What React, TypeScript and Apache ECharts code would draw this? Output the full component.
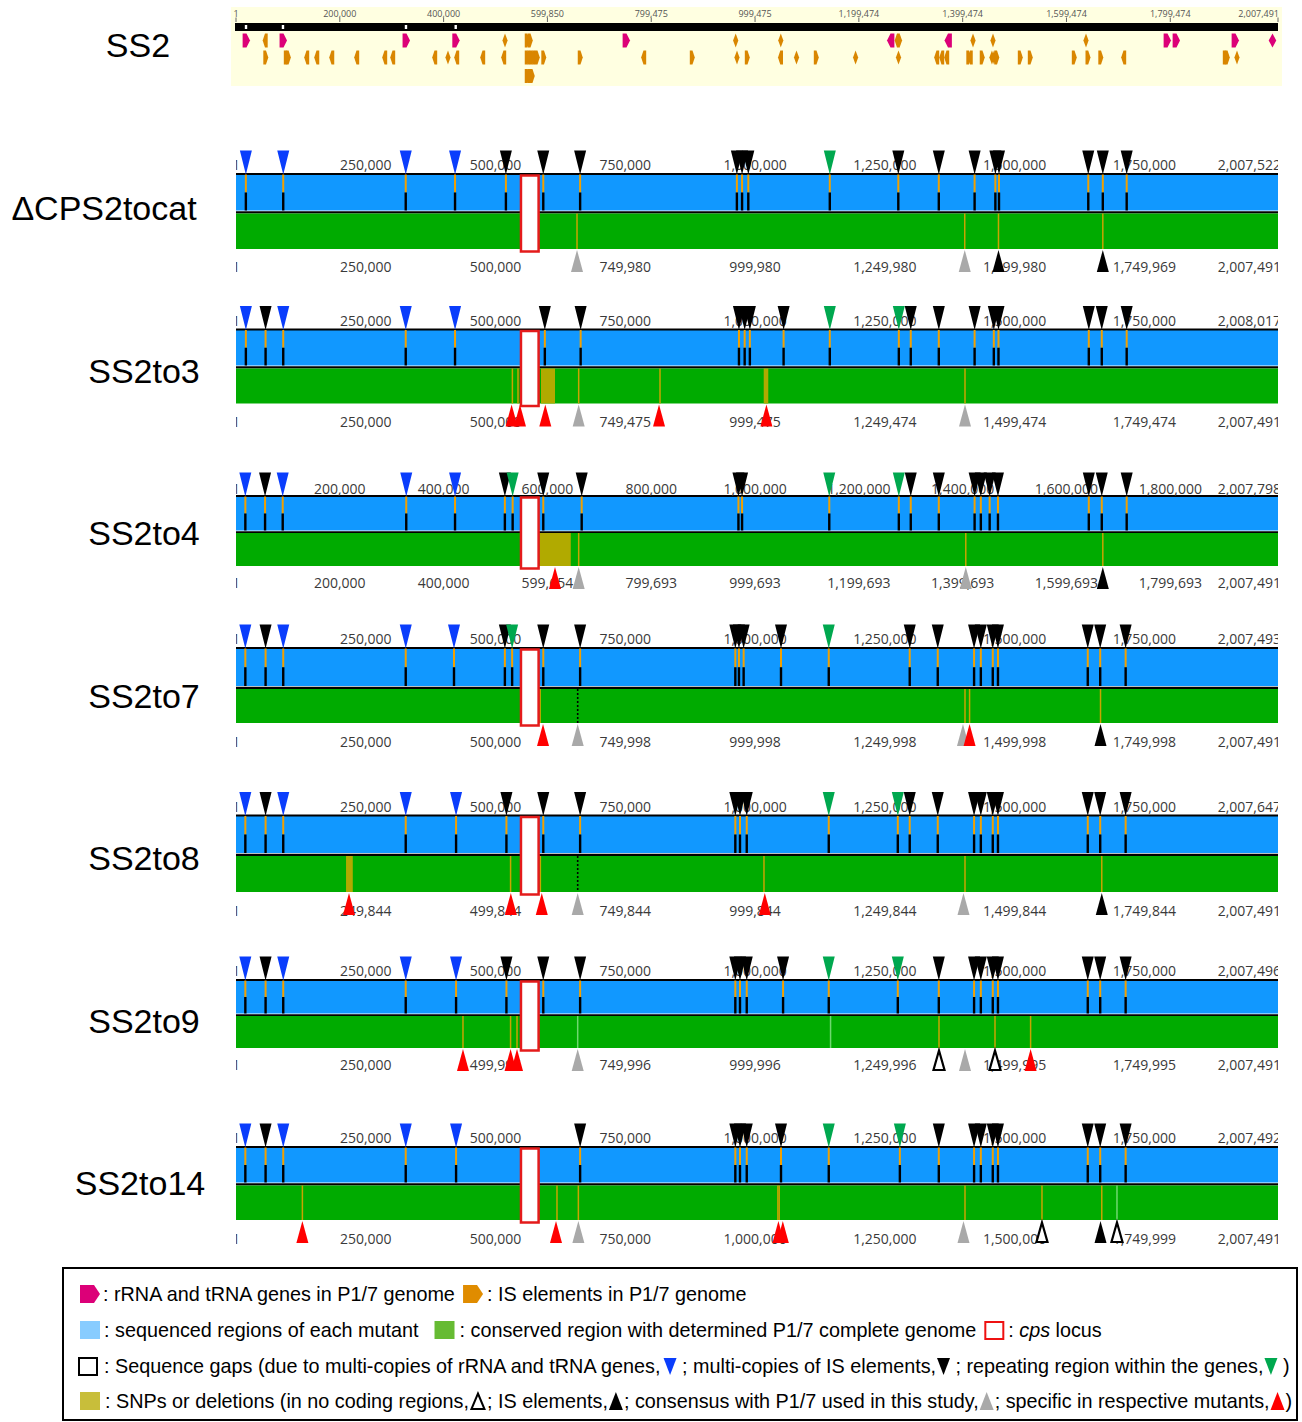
import React, { useEffect, useRef } from "react";
import * as echarts from "echarts";

// ---------- axis scale ----------
const GENOME_MAX = 2007522;
const TICKS_250K = [1, 250000, 500000, 750000, 1000000, 1250000, 1500000, 1750000, GENOME_MAX];
const TICKS_200K = [1, 200000, 400000, 600000, 800000, 1000000, 1200000, 1400000, 1600000, 1800000, GENOME_MAX];
const CPS_LOCUS = [549000, 583000];

// ---------- SS2 (P1/7) reference track ----------
const ss2TickLabels = ["1", "200,000", "400,000", "599,850", "799,475", "999,475", "1,199,474", "1,399,474", "1,599,474", "1,799,474", "2,007,491"];
const ss2BarNotches = [19300, 90500, 327500, 423300];
const ss2RnaGenes: [number, string][] = [
  [19300, "R"], [90500, "R"], [327500, "R"], [423300, "R"], [751400, "R"], [1261900, "L"],
  [1372700, "L"], [1793700, "R"], [1811000, "R"], [1924700, "R"], [1996900, "D"],
];
const ss2IsRow1: [number, string][] = [
  [56800, "L"], [518300, "D"], [560600, "R"], [566400, "R"], [962700, "D"], [1049600, "D"],
  [1274400, "L"], [1278400, "D"], [1419900, "D"], [1458400, "D"], [1637600, "D"],
];
const ss2IsRow2: [number, string][] = [
  [56800, "R"], [96300, "R"], [100300, "R"], [136800, "L"], [156100, "L"], [185000, "L"], [233100, "L"],
  [287100, "L"], [302500, "L"], [383400, "L"], [408400, "D"], [425800, "L"], [475900, "L"], [516300, "L"],
  [560600, "R"], [565400, "R"], [570200, "R"], [575000, "R"], [579900, "R"], [592400, "R"], [662700, "R"],
  [786000, "L"], [878500, "R"], [965200, "D"], [984500, "R"], [1049600, "L"], [1079900, "D"], [1117400, "R"],
  [1193700, "D"], [1276400, "D"], [1350500, "L"], [1360200, "L"], [1369800, "L"], [1411300, "R"], [1415200, "L"],
  [1437200, "R"], [1456400, "D"], [1460400, "D"], [1465200, "R"], [1510500, "R"], [1529700, "R"], [1614500, "R"],
  [1640900, "R"], [1665600, "R"], [1710800, "L"], [1905400, "R"], [1909300, "R"], [1928500, "D"],
];
const ss2IsRow3: [number, string][] = [[560600, "R"], [565400, "R"], [570200, "R"]];

// ---------- ΔCPS2tocat ----------
const dcpsTopLabels = ["1", "250,000", "500,000", "750,000", "1,000,000", "1,250,000", "1,500,000", "1,750,000", "2,007,522"];
const dcpsBottomLabels = ["1", "250,000", "500,000", "749,980", "999,980", "1,249,980", "1,499,980", "1,749,969", "2,007,491"];
const dcpsGaps: [number, string][] = [
  [19000, "rna"], [91000, "rna"], [327000, "rna"], [422000, "rna"], [520000, "is"], [592000, "is"], [663000, "is"],
  [965000, "is"], [975000, "is"], [987000, "is"], [1144000, "rep"], [1276000, "is"], [1354000, "is"], [1423000, "is"],
  [1463000, "is"], [1470000, "is"], [1642000, "is"], [1670000, "is"], [1716000, "is"],
];
const dcpsSnps = [657000, 1404000, 1469000, 1670000];
const dcpsBlocks: [number, number][] = [];
const dcpsMarks: [number, string][] = [[657000, "con"], [1404000, "con"], [1469000, "is"], [1670000, "is"]];

// ---------- SS2to3 ----------
const to3TopLabels = ["1", "250,000", "500,000", "750,000", "1,000,000", "1,250,000", "1,500,000", "1,750,000", "2,008,017"];
const to3BottomLabels = ["1", "250,000", "500,000", "749,475", "999,475", "1,249,474", "1,499,474", "1,749,474", "2,007,491"];
const to3Gaps: [number, string][] = [
  [19000, "rna"], [57000, "is"], [91000, "rna"], [327000, "rna"], [422000, "rna"], [595000, "is"], [664000, "is"],
  [969000, "is"], [980000, "is"], [990000, "is"], [1055000, "is"], [1144000, "rep"], [1277000, "rep"], [1300000, "is"],
  [1354000, "is"], [1423000, "is"], [1460000, "is"], [1469000, "is"], [1643000, "is"], [1668000, "is"], [1716000, "is"],
];
const to3Snps = [532500, 543300, 660200, 816900, 1404500];
const to3Blocks: [number, number][] = [[587600, 614600], [1016700, 1025500]];
const to3Marks: [number, string][] = [
  [531000, "spec"], [547100, "spec"], [595900, "spec"], [660200, "con"], [815000, "spec"], [1021900, "spec"], [1404500, "con"],
];

// ---------- SS2to4 ----------
const to4TopLabels = ["1", "200,000", "400,000", "600,000", "800,000", "1,000,000", "1,200,000", "1,400,000", "1,600,000", "1,800,000", "2,007,798"];
const to4BottomLabels = ["1", "200,000", "400,000", "599,654", "799,693", "999,693", "1,199,693", "1,399,693", "1,599,693", "1,799,693", "2,007,491"];
const to4Gaps: [number, string][] = [
  [18000, "rna"], [56000, "is"], [90000, "rna"], [328000, "rna"], [422000, "rna"], [518000, "is"], [533000, "rep"],
  [592000, "is"], [666000, "is"], [968000, "is"], [975000, "is"], [1143000, "rep"], [1277000, "rep"], [1300000, "is"],
  [1354000, "is"], [1423000, "is"], [1435000, "is"], [1452000, "is"], [1468000, "is"], [1643000, "is"], [1668000, "is"],
  [1716000, "is"],
];
const to4Snps = [660200, 1406000, 1670000];
const to4Blocks: [number, number][] = [[585000, 645000]];
const to4Marks: [number, string][] = [[614600, "spec"], [660200, "con"], [1406000, "con"], [1670000, "is"]];

// ---------- SS2to7 ----------
const to7TopLabels = ["1", "250,000", "500,000", "750,000", "1,000,000", "1,250,000", "1,500,000", "1,750,000", "2,007,493"];
const to7BottomLabels = ["1", "250,000", "500,000", "749,998", "999,998", "1,249,998", "1,499,998", "1,749,998", "2,007,491"];
const to7Gaps: [number, string][] = [
  [18000, "rna"], [57000, "is"], [91000, "rna"], [327000, "rna"], [420000, "rna"], [518000, "is"], [532000, "rep"],
  [592000, "is"], [663000, "is"], [962000, "is"], [969000, "is"], [978000, "is"], [1050000, "is"], [1142000, "rep"],
  [1298000, "is"], [1352000, "is"], [1422000, "is"], [1435000, "is"], [1458000, "is"], [1468000, "is"], [1641000, "is"],
  [1665000, "is"], [1714000, "is"],
];
const to7Snps = [586000, 1404500, 1413300, 1665600];
const to7Dotted = [658300];
const to7Marks: [number, string][] = [[591500, "spec"], [658300, "con"], [1400600, "con"], [1413300, "spec"], [1665600, "is"]];

// ---------- SS2to8 ----------
const to8TopLabels = ["1", "250,000", "500,000", "750,000", "1,000,000", "1,250,000", "1,500,000", "1,750,000", "2,007,647"];
const to8BottomLabels = ["1", "249,844", "499,844", "749,844", "999,844", "1,249,844", "1,499,844", "1,749,844", "2,007,491"];
const to8Gaps: [number, string][] = [
  [18000, "rna"], [57000, "is"], [91000, "rna"], [327000, "rna"], [424000, "rna"], [521000, "is"], [592000, "is"],
  [663000, "is"], [962000, "is"], [971000, "is"], [984000, "is"], [1142000, "rep"], [1275000, "rep"], [1298000, "is"],
  [1352000, "is"], [1422000, "is"], [1435000, "is"], [1458000, "is"], [1468000, "is"], [1641000, "is"], [1665000, "is"],
  [1714000, "is"],
];
const to8Snps = [529000, 586400, 1017200, 1404500, 1668000];
const to8Dotted = [658300];
const to8Blocks: [number, number][] = [[212000, 225000]];
const to8Marks: [number, string][] = [
  [217700, "spec"], [529500, "spec"], [589100, "spec"], [658300, "con"], [1018800, "spec"], [1401600, "con"], [1668000, "is"],
];

// ---------- SS2to9 ----------
const to9TopLabels = ["1", "250,000", "500,000", "750,000", "1,000,000", "1,250,000", "1,500,000", "1,750,000", "2,007,496"];
const to9BottomLabels = ["1", "250,000", "499,996", "749,996", "999,996", "1,249,996", "1,499,995", "1,749,995", "2,007,491"];
const to9Gaps: [number, string][] = [
  [18000, "rna"], [57000, "is"], [91000, "rna"], [327000, "rna"], [424000, "rna"], [521000, "is"], [592000, "is"],
  [663000, "is"], [962000, "is"], [971000, "is"], [984000, "is"], [1054000, "is"], [1142000, "rep"], [1275000, "rep"],
  [1354000, "is"], [1422000, "is"], [1435000, "is"], [1458000, "is"], [1468000, "is"], [1641000, "is"], [1665000, "is"],
  [1714000, "is"],
];
const to9Snps = [437300, 529000, 541400, 1354400, 1462300, 1530900];
const to9Faint = [658300, 1145500];
const to9Marks: [number, string][] = [
  [437300, "spec"], [529000, "spec"], [541400, "spec"], [658300, "con"], [1354400, "nc"], [1404500, "con"],
  [1462300, "nc"], [1530900, "spec"],
];

// ---------- SS2to14 ----------
const to14TopLabels = ["1", "250,000", "500,000", "750,000", "1,000,000", "1,250,000", "1,500,000", "1,750,000", "2,007,492"];
const to14BottomLabels = ["1", "250,000", "500,000", "750,000", "1,000,000", "1,250,000", "1,500,000", "1,749,999", "2,007,491"];
const to14Gaps: [number, string][] = [
  [18000, "rna"], [57000, "is"], [91000, "rna"], [327000, "rna"], [424000, "rna"], [663000, "is"], [962000, "is"],
  [971000, "is"], [984000, "is"], [1050000, "is"], [1142000, "rep"], [1279000, "rep"], [1354000, "is"], [1422000, "is"],
  [1435000, "is"], [1458000, "is"], [1468000, "is"], [1641000, "is"], [1665000, "is"], [1714000, "is"],
];
const to14Snps = [127900, 618400, 659600, 1044000, 1046500, 1404500, 1552800, 1668000];
const to14Faint = [1697300];
const to14Marks: [number, string][] = [
  [127900, "spec"], [616500, "spec"], [659600, "con"], [1045000, "spec"], [1053500, "spec"], [1401600, "con"],
  [1552800, "nc"], [1665600, "is"], [1697300, "nc"],
];

const TRACKS = [
  { name: "ΔCPS2tocat", ticks: TICKS_250K, top: dcpsTopLabels, bottom: dcpsBottomLabels, gaps: dcpsGaps, snps: dcpsSnps, faint: [] as number[], dotted: [] as number[], blocks: dcpsBlocks, marks: dcpsMarks },
  { name: "SS2to3", ticks: TICKS_250K, top: to3TopLabels, bottom: to3BottomLabels, gaps: to3Gaps, snps: to3Snps, faint: [], dotted: [], blocks: to3Blocks, marks: to3Marks },
  { name: "SS2to4", ticks: TICKS_200K, top: to4TopLabels, bottom: to4BottomLabels, gaps: to4Gaps, snps: to4Snps, faint: [], dotted: [], blocks: to4Blocks, marks: to4Marks },
  { name: "SS2to7", ticks: TICKS_250K, top: to7TopLabels, bottom: to7BottomLabels, gaps: to7Gaps, snps: to7Snps, faint: [], dotted: to7Dotted, blocks: [], marks: to7Marks },
  { name: "SS2to8", ticks: TICKS_250K, top: to8TopLabels, bottom: to8BottomLabels, gaps: to8Gaps, snps: to8Snps, faint: [], dotted: to8Dotted, blocks: to8Blocks, marks: to8Marks },
  { name: "SS2to9", ticks: TICKS_250K, top: to9TopLabels, bottom: to9BottomLabels, gaps: to9Gaps, snps: to9Snps, faint: to9Faint, dotted: [], blocks: [], marks: to9Marks },
  { name: "SS2to14", ticks: TICKS_250K, top: to14TopLabels, bottom: to14BottomLabels, gaps: to14Gaps, snps: to14Snps, faint: to14Faint, dotted: [], blocks: [], marks: to14Marks },
];

// ---------- layout (pixel rows) ----------
const LAYOUT = [
  { nameX: 104, nameY: 208, topLabelY: 164, blueTop: 174.5, blueBottom: 210.5, greenTop: 213.5, greenBottom: 249, bottomLabelY: 266 },
  { nameX: 144, nameY: 371, topLabelY: 320, blueTop: 330, blueBottom: 365.5, greenTop: 368.5, greenBottom: 403.5, bottomLabelY: 421 },
  { nameX: 144, nameY: 533, topLabelY: 488, blueTop: 496.5, blueBottom: 530.5, greenTop: 533, greenBottom: 566, bottomLabelY: 582 },
  { nameX: 144, nameY: 696, topLabelY: 638, blueTop: 648.5, blueBottom: 686, greenTop: 689, greenBottom: 723, bottomLabelY: 741 },
  { nameX: 144, nameY: 858, topLabelY: 806, blueTop: 816, blueBottom: 853, greenTop: 856, greenBottom: 892, bottomLabelY: 910 },
  { nameX: 144, nameY: 1021, topLabelY: 970, blueTop: 980.5, blueBottom: 1013.5, greenTop: 1016, greenBottom: 1048, bottomLabelY: 1064 },
  { nameX: 140, nameY: 1183, topLabelY: 1137, blueTop: 1147.5, blueBottom: 1182.5, greenTop: 1185.5, greenBottom: 1220, bottomLabelY: 1238 },
];

const C = {
  blue: "#1198ff", green: "#00ab00", olive: "#b1aa00", snp: "#c8a400", faint: "#6fd86f", isOrange: "#f2a000",
  triBlue: "#0a3dfc", triGreen: "#00a84f", red: "#ff0000", gray: "#a9a9a9", cps: "#e41b1b",
  magenta: "#dc0078", orange: "#d98600", label: "#3a3a3a",
};
const LEGEND_FONT = 19.8;
const LEGEND_FAMILY = '"Liberation Sans", Arial, sans-serif';

function markerPoints(x: number, y: number, dir: string, wide: boolean) {
  const h = 7;
  const a = wide ? 3.4 : 2.2;
  if (dir === "R") return [[x - a, y - h], [x + 0.5, y - h], [x + a + 0.6, y], [x + 0.5, y + h], [x - a, y + h]];
  if (dir === "L") return [[x + a, y - h], [x - 0.5, y - h], [x - a - 0.6, y], [x - 0.5, y + h], [x + a, y + h]];
  return [[x, y - h], [x + a + 0.4, y], [x, y + h], [x - a - 0.4, y]];
}

function buildOption() {
  const series: any[] = [];
  const px = (api: any, pos: number) => api.coord([pos, 0])[0];
  const mk = (name: string, items: any[], z: number, render: (it: any, api: any) => any, clip = false) => {
    series.push({
      type: "custom", name, z, silent: true, clip,
      data: items.map((it) => [it.pos, 0]),
      encode: { x: 0, y: 1 },
      renderItem: (params: any, api: any) => render(items[params.dataIndex], api),
    });
  };

  // ----- SS2 reference -----
  mk("ss2-bar", [{ pos: 0 }], 2, (_it, api) => {
    const x0 = px(api, 0), x1 = px(api, GENOME_MAX);
    return { type: "rect", shape: { x: x0 - 1, y: 23, width: x1 - x0 + 1, height: 8 }, style: { fill: "#000" } };
  });
  mk("ss2-notch", ss2BarNotches.map((p) => ({ pos: p })), 3, (it, api) => {
    const x = px(api, it.pos);
    return { type: "rect", shape: { x: x - 1.2, y: 25, width: 2.4, height: 4 }, style: { fill: "#fff" } };
  });
  mk("ss2-ticks", ss2TickLabels.map((t, i) => ({ pos: TICKS_200K[i], text: t, i })), 3, (it, api) => {
    const x = px(api, it.pos);
    const last = it.i === ss2TickLabels.length - 1;
    return {
      type: "group", children: [
        { type: "line", shape: { x1: x, y1: 17.5, x2: x, y2: 22 }, style: { stroke: "#666", lineWidth: 1 } },
        { type: "text", style: { text: it.text, x: last ? x + 1 : x, y: 13, fill: "#555", fontSize: 9, fontFamily: "Open Sans", align: last ? "right" : "center", verticalAlign: "middle" } },
      ],
    };
  });
  const ss2Markers = [
    ...ss2RnaGenes.map(([p, d]) => ({ pos: p, dir: d, y: 40.5, color: C.magenta, wide: true })),
    ...ss2IsRow1.map(([p, d]) => ({ pos: p, dir: d, y: 40.5, color: C.orange, wide: false })),
    ...ss2IsRow2.map(([p, d]) => ({ pos: p, dir: d, y: 57.5, color: C.orange, wide: false })),
    ...ss2IsRow3.map(([p, d]) => ({ pos: p, dir: d, y: 76, color: C.orange, wide: false })),
  ];
  mk("ss2-genes", ss2Markers, 3, (it, api) => {
    const x = px(api, it.pos);
    return { type: "polygon", shape: { points: markerPoints(x, it.y, it.dir, it.wide) }, style: { fill: it.color } };
  });

  // ----- mutant tracks -----
  mk("bars", TRACKS.map((_t, ti) => ({ pos: 0, ti })), 2, (it, api) => {
    const L = LAYOUT[it.ti];
    const x0 = px(api, 0), x1 = px(api, GENOME_MAX), w = x1 - x0;
    return {
      type: "group", children: [
        { type: "rect", shape: { x: x0, y: L.blueTop, width: w, height: L.blueBottom - L.blueTop }, style: { fill: C.blue } },
        { type: "rect", shape: { x: x0, y: L.blueTop - 1.4, width: w, height: 1.8 }, style: { fill: "#000" } },
        { type: "rect", shape: { x: x0, y: L.blueBottom + 0.8, width: w, height: L.greenTop - L.blueBottom - 0.8 }, style: { fill: "#000" } },
        { type: "rect", shape: { x: x0, y: L.greenTop, width: w, height: L.greenBottom - L.greenTop }, style: { fill: C.green } },
      ],
    };
  });

  const blockItems = TRACKS.flatMap((t, ti) => t.blocks.map(([s, e]) => ({ pos: s, end: e, ti })));
  mk("blocks", blockItems, 3, (it, api) => {
    const L = LAYOUT[it.ti];
    const x0 = px(api, it.pos), x1 = px(api, it.end);
    return { type: "rect", shape: { x: x0, y: L.greenTop, width: x1 - x0, height: L.greenBottom - L.greenTop }, style: { fill: C.olive } };
  });

  const lineItems = TRACKS.flatMap((t, ti) => [
    ...t.snps.map((p) => ({ pos: p, ti, kind: "snp" })),
    ...t.faint.map((p) => ({ pos: p, ti, kind: "faint" })),
    ...t.dotted.map((p) => ({ pos: p, ti, kind: "dot" })),
  ]);
  mk("snps", lineItems, 4, (it, api) => {
    const L = LAYOUT[it.ti];
    const x = px(api, it.pos);
    const style: any = it.kind === "dot"
      ? { stroke: "#000", lineWidth: 1.6, lineDash: [2, 2] }
      : { stroke: it.kind === "faint" ? C.faint : C.snp, lineWidth: 1.5 };
    return { type: "line", shape: { x1: x, y1: L.greenTop, x2: x, y2: L.greenBottom }, style };
  });

  const gapItems = TRACKS.flatMap((t, ti) => t.gaps.map(([p, type]) => ({ pos: p, ti, type })));
  mk("gap-lines", gapItems, 4, (it, api) => {
    const L = LAYOUT[it.ti];
    const x = px(api, it.pos);
    const mid = L.blueTop + (L.blueBottom - L.blueTop) * 0.5;
    return {
      type: "group", children: [
        { type: "rect", shape: { x: x - 1, y: L.blueTop, width: 2, height: mid - L.blueTop }, style: { fill: C.isOrange } },
        { type: "rect", shape: { x: x - 1.2, y: mid, width: 2.4, height: L.blueBottom - mid }, style: { fill: "#000" } },
      ],
    };
  });

  mk("cps", TRACKS.map((_t, ti) => ({ pos: CPS_LOCUS[0], end: CPS_LOCUS[1], ti })), 5, (it, api) => {
    const L = LAYOUT[it.ti];
    const x0 = px(api, it.pos), x1 = px(api, it.end);
    return {
      type: "rect", shape: { x: x0, y: L.blueTop + 1, width: x1 - x0, height: L.greenBottom + 2.5 - L.blueTop - 1 },
      style: { fill: "#fff", stroke: C.cps, lineWidth: 2.5 },
    };
  });

  const labelItems = TRACKS.flatMap((t, ti) => {
    const n = t.ticks.length;
    return [
      ...t.top.map((s, j) => ({ pos: t.ticks[j], text: s, ti, y: LAYOUT[ti].topLabelY, last: j === n - 1 })),
      ...t.bottom.map((s, j) => ({ pos: t.ticks[j], text: s, ti, y: LAYOUT[ti].bottomLabelY, last: j === n - 1 })),
    ];
  });
  mk("tick-labels", labelItems, 6, (it, api) => {
    const x = px(api, it.pos);
    return {
      type: "text",
      style: {
        text: it.text, x: it.last ? x + 3 : x, y: it.y, fill: C.label, fontSize: 14, fontFamily: "Open Sans",
        align: it.last ? "right" : "center", verticalAlign: "middle",
      },
    };
  }, true);

  const topTriColor: any = { rna: C.triBlue, is: "#000", rep: C.triGreen };
  mk("gap-triangles", gapItems, 7, (it, api) => {
    const L = LAYOUT[it.ti];
    const x = px(api, it.pos);
    return {
      type: "polygon",
      shape: { points: [[x - 6, L.blueTop - 24], [x + 6, L.blueTop - 24], [x, L.blueTop]] },
      style: { fill: topTriColor[it.type] },
    };
  });

  const markItems = TRACKS.flatMap((t, ti) => t.marks.map(([p, type]) => ({ pos: p, ti, type })));
  const markColor: any = { spec: C.red, con: C.gray, is: "#000" };
  mk("snp-triangles", markItems, 7, (it, api) => {
    const L = LAYOUT[it.ti];
    const x = px(api, it.pos);
    const top = L.greenBottom + 1, base = L.greenBottom + 23;
    if (it.type === "nc") {
      return {
        type: "polygon",
        shape: { points: [[x, top + 1.5], [x + 5.5, base - 1], [x - 5.5, base - 1]] },
        style: { fill: "#fff", stroke: "#000", lineWidth: 2.2 },
      };
    }
    return {
      type: "polygon",
      shape: { points: [[x, top], [x + 6, base], [x - 6, base]] },
      style: { fill: markColor[it.type] },
    };
  });

  // ----- legend & names (graphic) -----
  const ctx = document.createElement("canvas").getContext("2d")!;
  const measure = (s: string, italic = false) => {
    ctx.font = `${italic ? "italic " : ""}${LEGEND_FONT}px "Liberation Sans"`;
    return ctx.measureText(s).width;
  };
  const pent = (color: string) => ({ w: 20, draw: (x: number, y: number) => [{ type: "polygon", shape: { points: [[x, y - 9], [x + 14, y - 9], [x + 20, y], [x + 14, y + 9], [x, y + 9]] }, style: { fill: color } }] });
  const sq = (color: string) => ({ w: 20, draw: (x: number, y: number) => [{ type: "rect", shape: { x, y: y - 9, width: 20, height: 18 }, style: { fill: color } }] });
  const sqHollow = (color: string) => ({ w: 20, draw: (x: number, y: number) => [{ type: "rect", shape: { x: x + 1, y: y - 8, width: 18, height: 17 }, style: { fill: "#fff", stroke: color, lineWidth: 2 } }] });
  const triDown = (color: string) => ({ w: 13, draw: (x: number, y: number) => [{ type: "polygon", shape: { points: [[x, y - 8], [x + 13, y - 8], [x + 6.5, y + 9]] }, style: { fill: color } }] });
  const triUp = (color: string) => ({ w: 14, draw: (x: number, y: number) => [{ type: "polygon", shape: { points: [[x + 7, y - 9], [x + 14, y + 9], [x, y + 9]] }, style: { fill: color } }] });
  const triUpHollow = () => ({ w: 16, draw: (x: number, y: number) => [{ type: "polygon", shape: { points: [[x + 8, y - 7.5], [x + 14.5, y + 8], [x + 1.5, y + 8]] }, style: { fill: "#fff", stroke: "#000", lineWidth: 2 } }] });

  const row = (y: number, x0: number, toks: any[]) => {
    let x = x0;
    const els: any[] = [];
    for (const t of toks) {
      if (typeof t === "string" || t.text !== undefined) {
        const s = typeof t === "string" ? t : t.text;
        const italic = typeof t !== "string" && !!t.italic;
        els.push({
          type: "text", z: 10,
          style: { text: s, x, y, fill: "#000", fontSize: LEGEND_FONT, fontFamily: LEGEND_FAMILY, fontStyle: italic ? "italic" : "normal", align: "left", verticalAlign: "middle" },
        });
        x += measure(s, italic);
      } else {
        x += t.before || 0;
        els.push(...t.sym.draw(x, y).map((e: any) => ({ ...e, z: 10 })));
        x += t.sym.w + (t.after || 0);
      }
    }
    return els;
  };

  const legend = [
    { type: "rect", z: 9, shape: { x: 63, y: 1268, width: 1234, height: 152 }, style: { fill: "#fff", stroke: "#000", lineWidth: 2 } },
    ...row(1294, 80, [
      { sym: pent(C.magenta), after: 3 }, ": rRNA and tRNA genes in P1/7 genome",
      { sym: pent("#e08c00"), before: 6, after: 4 }, ": IS elements in P1/7 genome",
    ]),
    ...row(1330, 80, [
      { sym: sq("#88ccff"), after: 4 }, ": sequenced regions of each mutant",
      { sym: sq("#66bb33"), before: 16, after: 5 }, ": conserved region with determined P1/7 complete genome",
      { sym: sqHollow("#ee1111"), before: 8, after: 4 }, ": ", { text: "cps", italic: true }, " locus",
    ]),
    ...row(1366, 78, [
      { sym: sqHollow("#000"), after: 6 }, ": Sequence gaps (due to multi-copies of rRNA and tRNA genes,",
      { sym: triDown(C.triBlue), before: 1 }, " ; multi-copies of IS elements,",
      { sym: triDown("#000"), before: 1 }, " ; repeating region within the genes,",
      { sym: triDown(C.triGreen), before: 1 }, " )",
    ]),
    ...row(1401, 80, [
      { sym: sq("#c8be3a"), after: 5 }, ": SNPs or deletions (in no coding regions,",
      { sym: triUpHollow(), before: 1, after: 1 }, "; IS elements,",
      { sym: triUp("#000"), before: 1, after: 1 }, "; consensus with P1/7 used in this study,",
      { sym: triUp(C.gray), before: 1, after: 1 }, "; specific in respective mutants,",
      { sym: triUp(C.red), before: 1, after: 1 }, ")",
    ]),
  ];

  const names = [
    { type: "text", z: 10, style: { text: "SS2", x: 138, y: 45, fill: "#000", fontSize: 34, fontFamily: LEGEND_FAMILY, align: "center", verticalAlign: "middle" } },
    ...TRACKS.map((t, i) => ({
      type: "text", z: 10,
      style: { text: t.name, x: LAYOUT[i].nameX, y: LAYOUT[i].nameY, fill: "#000", fontSize: 34, fontFamily: LEGEND_FAMILY, align: "center", verticalAlign: "middle" },
    })),
  ];

  return {
    animation: false,
    backgroundColor: "#fff",
    grid: [{ left: 236, right: 24, top: 0, bottom: 0 }],
    xAxis: [{ type: "value", min: 0, max: GENOME_MAX, show: false }],
    yAxis: [{ type: "value", min: 0, max: 1422, inverse: true, show: false }],
    graphic: {
      elements: [
        { type: "rect", z: 0, shape: { x: 231, y: 7, width: 1051, height: 79 }, style: { fill: "#ffffe1" } },
        ...names,
        ...legend,
      ],
    },
    series,
  };
}

export default function App() {
  const ref = useRef<HTMLDivElement>(null);
  useEffect(() => {
    document.body.style.margin = "0";
    const chart = echarts.init(ref.current!, null, { renderer: "svg" });
    chart.setOption(buildOption() as any);
    return () => chart.dispose();
  }, []);
  return <div ref={ref} style={{ position: "absolute", left: 0, top: 0, width: 1302, height: 1422 }} />;
}
